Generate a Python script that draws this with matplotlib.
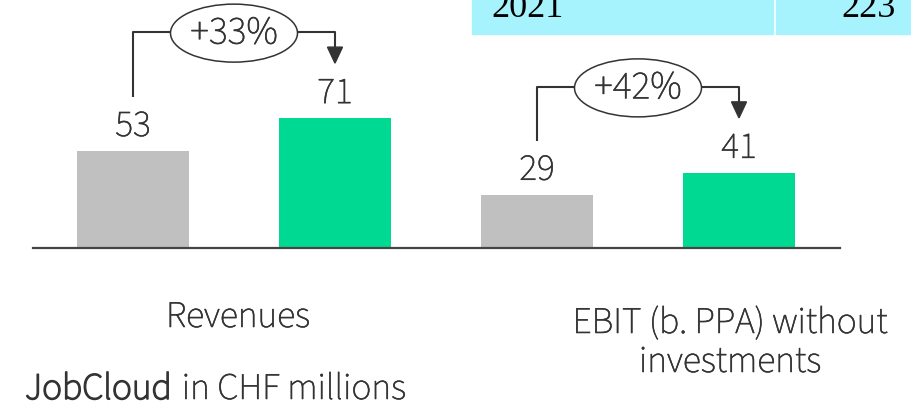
"""JobCloud revenues and EBIT, 2021 vs 2022, bar chart with growth brackets."""

import matplotlib

matplotlib.use("Agg")

import matplotlib.patheffects as pe
import matplotlib.pyplot as plt
from matplotlib.patches import Ellipse, Polygon, Rectangle

categories = ["Revenues", "EBIT (b. PPA) without\ninvestments"]
values_prev = [53, 29]
values_curr = [71, 41]
growth_labels = ["+33%", "+42%"]
table_year = "2021"
table_value = "223"
title_bold = "JobCloud"
title_rest = "in CHF millions"

GRAY = "#C0C0C0"
GREEN = "#00D991"
CYAN = "#A6F3FD"
TEXT = "#333333"
FONT = "Source Sans 3"
FS = 27

W, H = 911, 412
PX_PER_UNIT = 1.825

# the variable font only renders its thinnest master, so thicken the strokes a bit
LIGHT = [pe.withStroke(linewidth=0.4, foreground=TEXT)]
REGULAR = [pe.withStroke(linewidth=1.1, foreground=TEXT)]


def fig_xy(x, y):
    """Convert pixel position (from top-left) to figure fraction."""
    return x / W, 1 - y / H


def px_y(p):
    """Pixel distance to data units on the y axis."""
    return p / PX_PER_UNIT


fig = plt.figure(figsize=(W / 100, H / 100), dpi=100)
base_px = 247.7
ax = fig.add_axes([33 / W, (H - base_px) / H, 807 / W, base_px / H])
ax.set_xlim(-0.495, 3.5)
ax.set_ylim(0, base_px / PX_PER_UNIT)
for side in ["top", "left", "right"]:
    ax.spines[side].set_visible(False)
ax.spines["bottom"].set_color("#444444")
ax.spines["bottom"].set_linewidth(1.6)
ax.set_xticks([])
ax.set_yticks([])
ax.patch.set_alpha(0)

bar_w = 112 / 202
unit_x = 1 / 202
for i, (prev, curr) in enumerate(zip(values_prev, values_curr)):
    x_prev = 2 * i
    x_curr = 2 * i + 1
    ax.bar(x_prev, prev, width=bar_w, color=GRAY, zorder=1)
    ax.bar(x_curr, curr, width=bar_w, color=GREEN, zorder=1)
    for x, v in [(x_prev, prev), (x_curr, curr)]:
        ax.text(x, v + px_y(15), str(v), ha="center", va="baseline",
                fontsize=FS, family=FONT, color=TEXT, path_effects=LIGHT)

    # growth bracket
    line_y = curr + px_y(86)
    start_y = prev + px_y(54)
    tip_y = curr + px_y(55)
    head_len = px_y(16)
    mid = x_prev + 0.5
    ell_w = 127 * unit_x
    ell_h = px_y(58)
    ax.plot([x_prev, x_prev, mid - ell_w / 2], [start_y, line_y, line_y],
            color=TEXT, lw=1.5, clip_on=False, solid_capstyle="butt")
    ax.plot([mid + ell_w / 2, x_curr, x_curr], [line_y, line_y, tip_y + head_len],
            color=TEXT, lw=1.5, clip_on=False, solid_capstyle="butt")
    half = 7.5 * unit_x
    ax.add_patch(Polygon([[x_curr - half, tip_y + head_len],
                          [x_curr + half, tip_y + head_len],
                          [x_curr, tip_y]],
                         closed=True, color=TEXT, clip_on=False))
    ax.add_patch(Ellipse((mid, line_y - px_y(1)), ell_w, ell_h, fill=False,
                         edgecolor=TEXT, lw=1.1, clip_on=False))
    ax.text(mid, line_y - px_y(1), growth_labels[i], ha="center", va="center",
            fontsize=28.5, family=FONT, color=TEXT, path_effects=LIGHT)

# category labels, one text per line so the line gap matches
label_pos = [(238, 327), (730, 333)]
for label, (cx, cy) in zip(categories, label_pos):
    for k, line in enumerate(label.split("\n")):
        fig.text(*fig_xy(cx, cy + 39 * k), line, ha="center", va="baseline",
                 fontsize=FS, family=FONT, color=TEXT, path_effects=LIGHT)

# title
t = fig.text(*fig_xy(25, 399), title_bold, ha="left", va="baseline",
             fontsize=FS, family=FONT, color=TEXT, path_effects=REGULAR)
fig.canvas.draw()
bb = t.get_window_extent()
fig.text(bb.x1 / W + 10 / W, 1 - 399 / H, title_rest, ha="left", va="baseline",
         fontsize=FS, family=FONT, color=TEXT, path_effects=LIGHT)

# table fragment at top right (cut off by the top edge, as in the source)
fig.patches.append(Rectangle(fig_xy(472.3, 34.3), 300.4 / W, 34.3 / H,
                             transform=fig.transFigure, color=CYAN, zorder=0))
fig.patches.append(Rectangle(fig_xy(775.7, 34.3), (W - 775.7) / W, 34.3 / H,
                             transform=fig.transFigure, color=CYAN, zorder=0))
fig.text(*fig_xy(491, 17.3), table_year, ha="left", va="baseline",
         fontsize=26, family="Liberation Serif", color="black")
fig.text(*fig_xy(896, 17.3), table_value, ha="right", va="baseline",
         fontsize=26, family="Liberation Serif", color="black")

fig.savefig("out.png", dpi=100)
